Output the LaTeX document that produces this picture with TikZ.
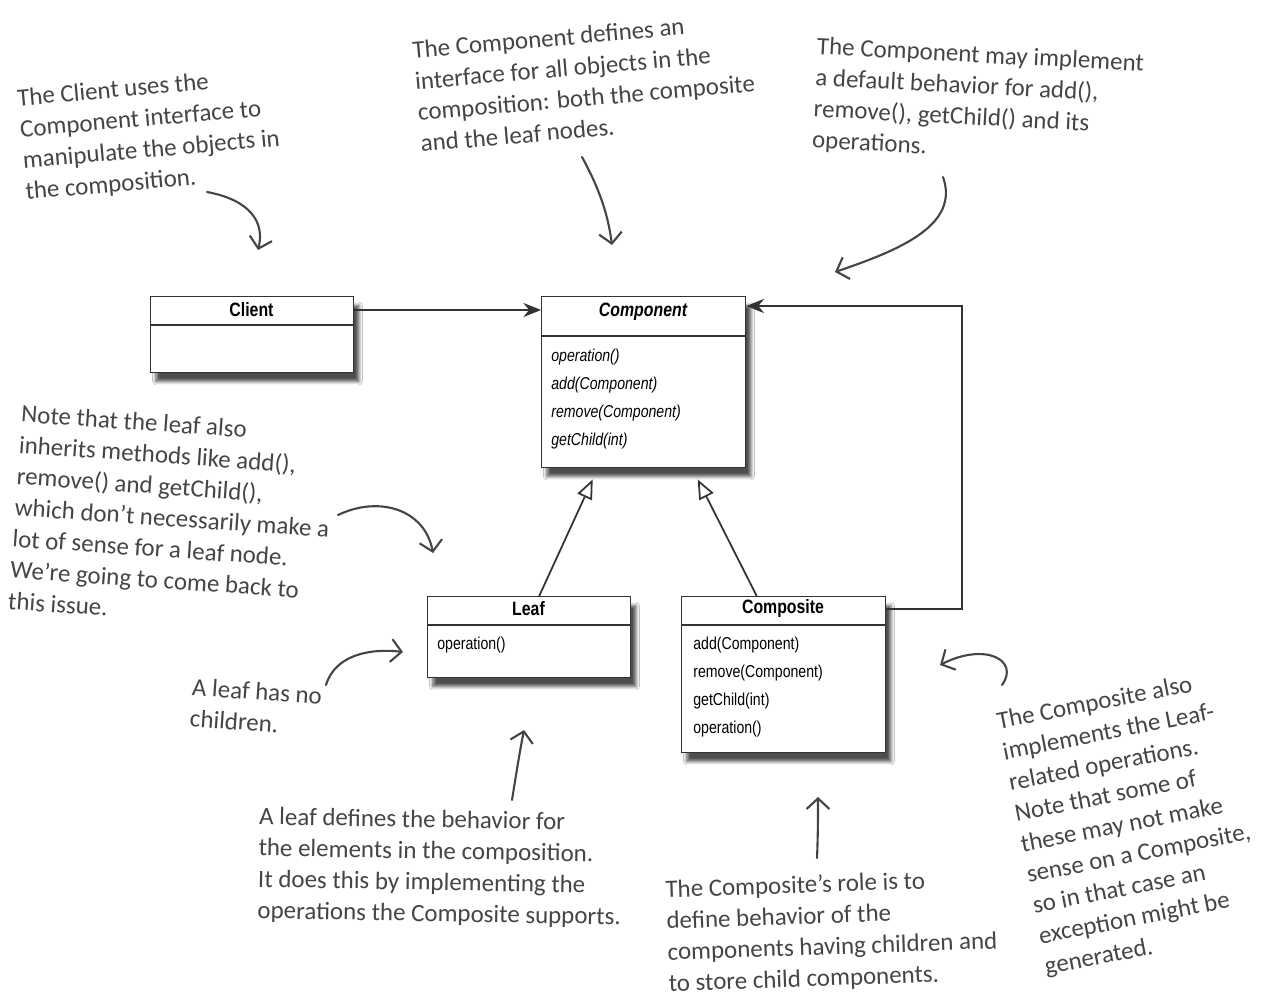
\documentclass[tikz,border=0pt]{standalone}
\usepackage{fontspec}
\setmainfont{Carlito}
\newfontfamily\umlfont[FakeStretch=0.82]{Liberation Sans}
\usetikzlibrary{calc}
\usetikzlibrary{arrows.meta}
\usetikzlibrary{shadows.blur}
\definecolor{ink}{HTML}{454545}
\definecolor{boxline}{HTML}{333333}

\begin{document}
\begin{tikzpicture}[x=0.02cm, y=-0.02cm, inner sep=0pt,
  classbox/.style={draw=boxline, line width=0.8pt, fill=white, anchor=north west,
    blur shadow={shadow xshift=3pt, shadow yshift=-5pt, shadow blur steps=6, shadow opacity=70}},
  classname/.style={font=\umlfont\bfseries\fontsize{11}{13}\selectfont},
  op/.style={anchor=west, font=\umlfont\fontsize{9.8}{11}\selectfont},
  note/.style={align=left, text=ink, font=\fontsize{14.2}{17.8}\selectfont},
  assoc/.style={draw=boxline, line width=1.2pt, -{Stealth[length=10pt, width=8pt]}},
  inherit/.style={draw=boxline, line width=1pt, -{Triangle[open, length=11pt, width=9pt]}},
  hand/.style={draw=ink, line width=1.2pt, line cap=round, -{Straight Barb[length=6pt, width=13pt]}}]
\def\u{0.02cm}
\useasboundingbox[fill=white] (0,0) rectangle (1270,999);

\node[classbox, minimum width=203*\u, minimum height=76*\u] (client) at (150,296) {};
\node[classbox, minimum width=204*\u, minimum height=171*\u] (component) at (541,296) {};
\node[classbox, minimum width=203*\u, minimum height=81*\u] (leaf) at (427,596) {};
\node[classbox, minimum width=204*\u, minimum height=156*\u] (composite) at (681,596) {};

\draw[boxline, line width=0.8pt] ([yshift=-29*\u]client.north west) -- ([yshift=-29*\u]client.north east);
\draw[boxline, line width=0.8pt] ([yshift=-40*\u]component.north west) -- ([yshift=-40*\u]component.north east);
\draw[boxline, line width=0.8pt] ([yshift=-29*\u]leaf.north west) -- ([yshift=-29*\u]leaf.north east);
\draw[boxline, line width=0.8pt] ([yshift=-29*\u]composite.north west) -- ([yshift=-29*\u]composite.north east);

\node[classname] (clienttitle) at (251.5,310) {Client};
\node[classname] (componenttitle) at (643,312) {\itshape Component};
\node[classname] (leaftitle) at (528.5,609) {Leaf};
\node[classname] (compositetitle) at (783,609) {Composite};

\foreach \t [count=\i] in {operation(), add(Component), remove(Component), getChild(int)}
  \node[op] (cop\i) at (551, 329+28*\i) {\itshape \t};
\node[op] (lop) at (437,645) {operation()};
\foreach \t [count=\i] in {add(Component), remove(Component), getChild(int), operation()}
  \node[op] (kop\i) at (693, 617+28*\i) {\t};

\coordinate (bend) at (962,306);
\draw[assoc] (client.east |- clienttitle) -- (component.west |- clienttitle);
\draw[assoc] (composite.east |- compositetitle) -| (bend) -- (component.east |- bend);
\draw[inherit] ([xshift=10*\u]leaf.north) -- ([xshift=-51*\u, yshift=-11*\u]component.south);
\draw[inherit] ([xshift=-27*\u]composite.north) -- ([xshift=54*\u, yshift=-11*\u]component.south);

\node[note, rotate=5] (clientnote) at (150,135) {The Client uses the\\Component interface to\\manipulate the objects in\\the composition.};
\node[note, rotate=5] (componentnote) at (585,82) {The Component defines an\\interface for all objects in the\\composition: both the composite\\and the leaf nodes.};
\node[note, rotate=-3] (defaultnote) at (978,103) {The Component may implement\\a default behavior for add(),\\remove(), getChild() and its\\operations.};
\node[note, rotate=-4] (inheritnote) at (172,518) {Note that the leaf also\\inherits methods like add(),\\remove() and getChild(),\\which don't necessarily make a\\lot of sense for a leaf node.\\We're going to come back to\\this issue.};
\node[note, rotate=-4] (childnote) at (256,707) {A leaf has no\\children.};
\node[note, rotate=-1] (leafnote) at (440,868) {A leaf defines the behavior for\\the elements in the composition.\\It does this by implementing the\\operations the Composite supports.};
\node[note, rotate=2] (rolenote) at (832,932) {The Composite's role is to\\define behavior of the\\components having children and\\to store child components.};
\node[note, rotate=11] (alsonote) at (1133,824) {The Composite also\\implements the Leaf-\\related operations.\\Note that some of\\these may not make\\sense on a Composite,\\so in that case an\\exception might be\\generated.};

\draw[hand] (207,192) .. controls (250,200) and (265,222) .. (258,250);
\draw[hand] (582,157) .. controls (600,190) and (608,215) .. (612,245);
\draw[hand] (943,177) .. controls (960,225) and (900,250) .. (835,272);
\draw[hand] (338,515) .. controls (380,495) and (425,510) .. (433,553);
\draw[hand] (326,685) .. controls (335,655) and (370,648) .. (403,652);
\draw[hand] (512,800) .. controls (516,775) and (520,750) .. (524,730);
\draw[hand] (817,858) .. controls (818,835) and (818,815) .. (818,797);
\draw[hand] (1002,685) .. controls (1020,660) and (985,642) .. (940,665);
\end{tikzpicture}
\end{document}
